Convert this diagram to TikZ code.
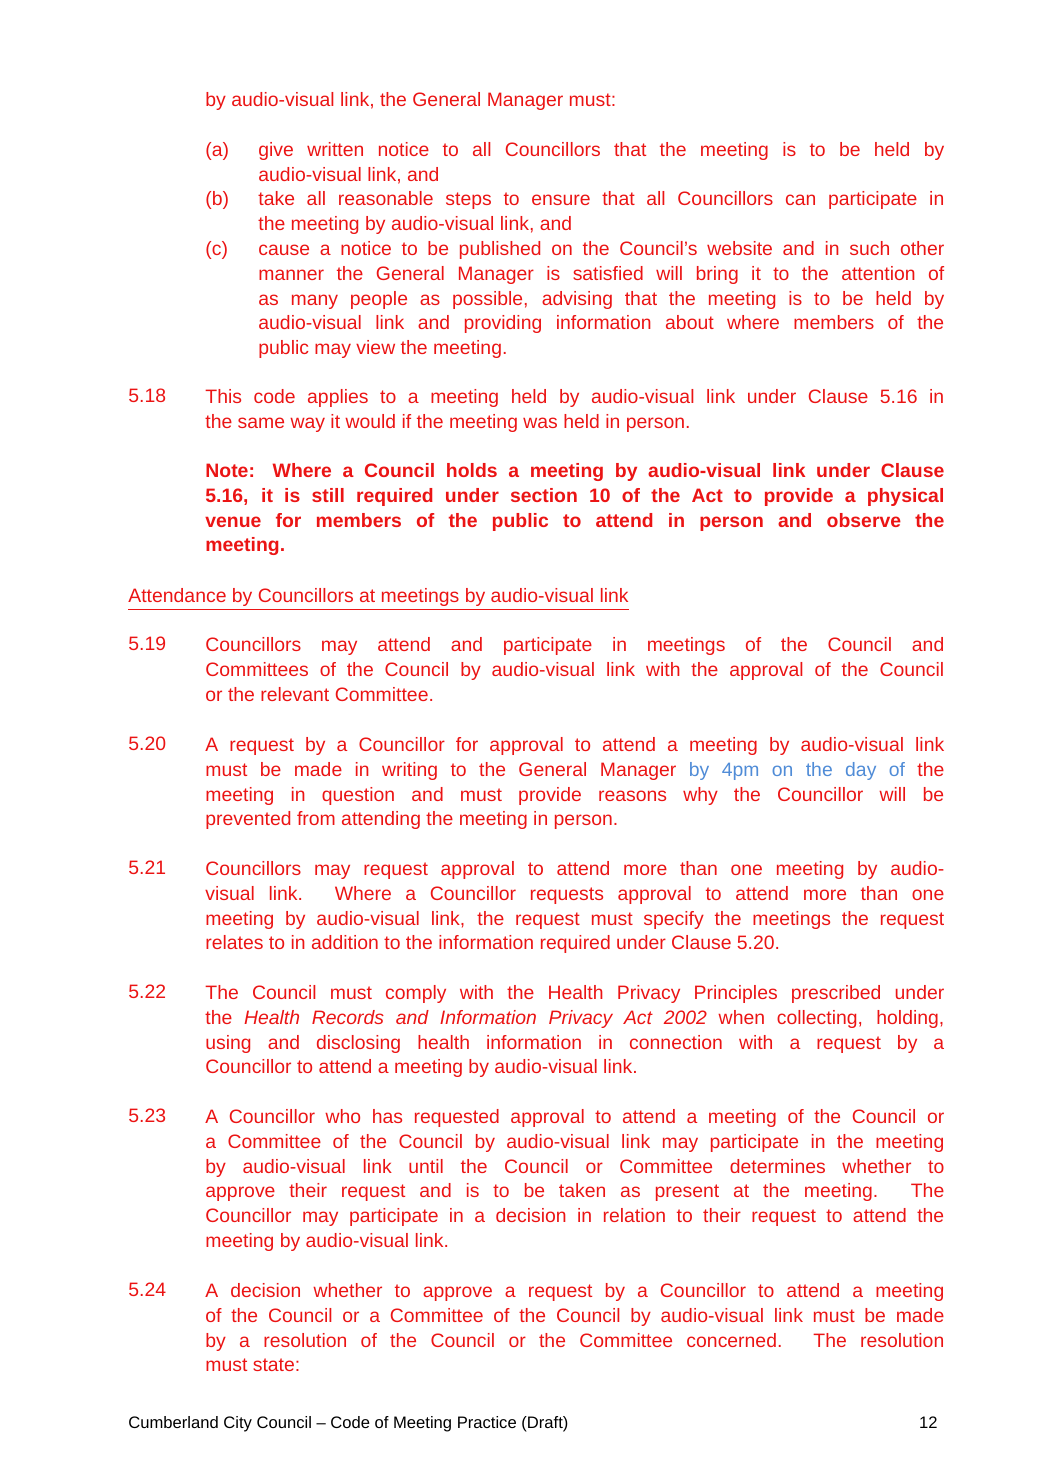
\documentclass[tikz,border=0pt]{standalone}
\usepackage{fontspec}
\setmainfont{Liberation Sans}
\definecolor{docred}{RGB}{235,20,20}
\definecolor{docblue}{RGB}{80,140,215}
\begin{document}
\begin{tikzpicture}[x=0.5pt,y=-0.5pt,
  txt/.style={anchor=north west,inner sep=0pt,text=docred,font=\fontsize{9.7}{12.4}\selectfont},
  body/.style={txt,text width=369.5pt,align=justify},
  sub/.style={txt,text width=343pt,align=justify}]
\useasboundingbox[fill=white] (0,0) rectangle (1041,1484);
\node[txt] (l0) at (205,92) {by audio-visual link, the General Manager must:};
\node[txt] (a) at (205,142) {(a)};
\node[sub] (at) at (258,142) {give written notice to all Councillors that the meeting is to be held by\linebreak audio-visual link, and};
\node[txt] (b) at (205,191) {(b)};
\node[sub] (bt) at (258,191) {take all reasonable steps to ensure that all Councillors can participate in\linebreak the meeting by audio-visual link, and};
\node[txt] (c) at (205,241) {(c)};
\node[sub] (ct) at (258,241) {cause a notice to be published on the Council’s website and in such other\linebreak manner the General Manager is satisfied will bring it to the attention of\linebreak as many people as possible, advising that the meeting is to be held by\linebreak audio-visual link and providing information about where members of the\linebreak public may view the meeting.};
\node[txt] (n18) at (128,389) {5.18};
\node[body] (p18) at (205,389) {This code applies to a meeting held by audio-visual link under Clause 5.16 in\linebreak the same way it would if the meeting was held in person.};
\node[body,font=\fontsize{9.7}{12.4}\selectfont\bfseries] (note) at (205,463) {Note: Where a Council holds a meeting by audio-visual link under Clause\linebreak 5.16, it is still required under section 10 of the Act to provide a physical\linebreak venue for members of the public to attend in person and observe the\linebreak meeting.};
\node[txt] (head) at (128,588) {\underline{Attendance by Councillors at meetings by audio-visual link}};
\node[txt] (n19) at (128,637) {5.19};
\node[body] (p19) at (205,637) {Councillors may attend and participate in meetings of the Council and\linebreak Committees of the Council by audio-visual link with the approval of the Council\linebreak or the relevant Committee.};
\node[txt] (n20) at (128,737) {5.20};
\node[body] (p20) at (205,737) {A request by a Councillor for approval to attend a meeting by audio-visual link\linebreak must be made in writing to the General Manager \textcolor{docblue}{by 4pm on the day of} the\linebreak meeting in question and must provide reasons why the Councillor will be\linebreak prevented from attending the meeting in person.};
\node[txt] (n21) at (128,861) {5.21};
\node[body] (p21) at (205,861) {Councillors may request approval to attend more than one meeting by audio-\linebreak visual link. Where a Councillor requests approval to attend more than one\linebreak meeting by audio-visual link, the request must specify the meetings the request\linebreak relates to in addition to the information required under Clause 5.20.};
\node[txt] (n22) at (128,985) {5.22};
\node[body] (p22) at (205,985) {The Council must comply with the Health Privacy Principles prescribed under\linebreak the \textit{Health Records and Information Privacy Act 2002} when collecting, holding,\linebreak using and disclosing health information in connection with a request by a\linebreak Councillor to attend a meeting by audio-visual link.};
\node[txt] (n23) at (128,1109) {5.23};
\node[body] (p23) at (205,1109) {A Councillor who has requested approval to attend a meeting of the Council or\linebreak a Committee of the Council by audio-visual link may participate in the meeting\linebreak by audio-visual link until the Council or Committee determines whether to\linebreak approve their request and is to be taken as present at the meeting. The\linebreak Councillor may participate in a decision in relation to their request to attend the\linebreak meeting by audio-visual link.};
\node[txt] (n24) at (128,1283) {5.24};
\node[body] (p24) at (205,1283) {A decision whether to approve a request by a Councillor to attend a meeting\linebreak of the Council or a Committee of the Council by audio-visual link must be made\linebreak by a resolution of the Council or the Committee concerned. The resolution\linebreak must state:};
\node[txt,text=black,font=\fontsize{8.3}{10}\selectfont] (foot) at (128,1416) {Cumberland City Council – Code of Meeting Practice (Draft)};
\node[txt,text=black,font=\fontsize{8.3}{10}\selectfont,anchor=north east] (pg) at (938,1416) {12};
\end{tikzpicture}
\end{document}
